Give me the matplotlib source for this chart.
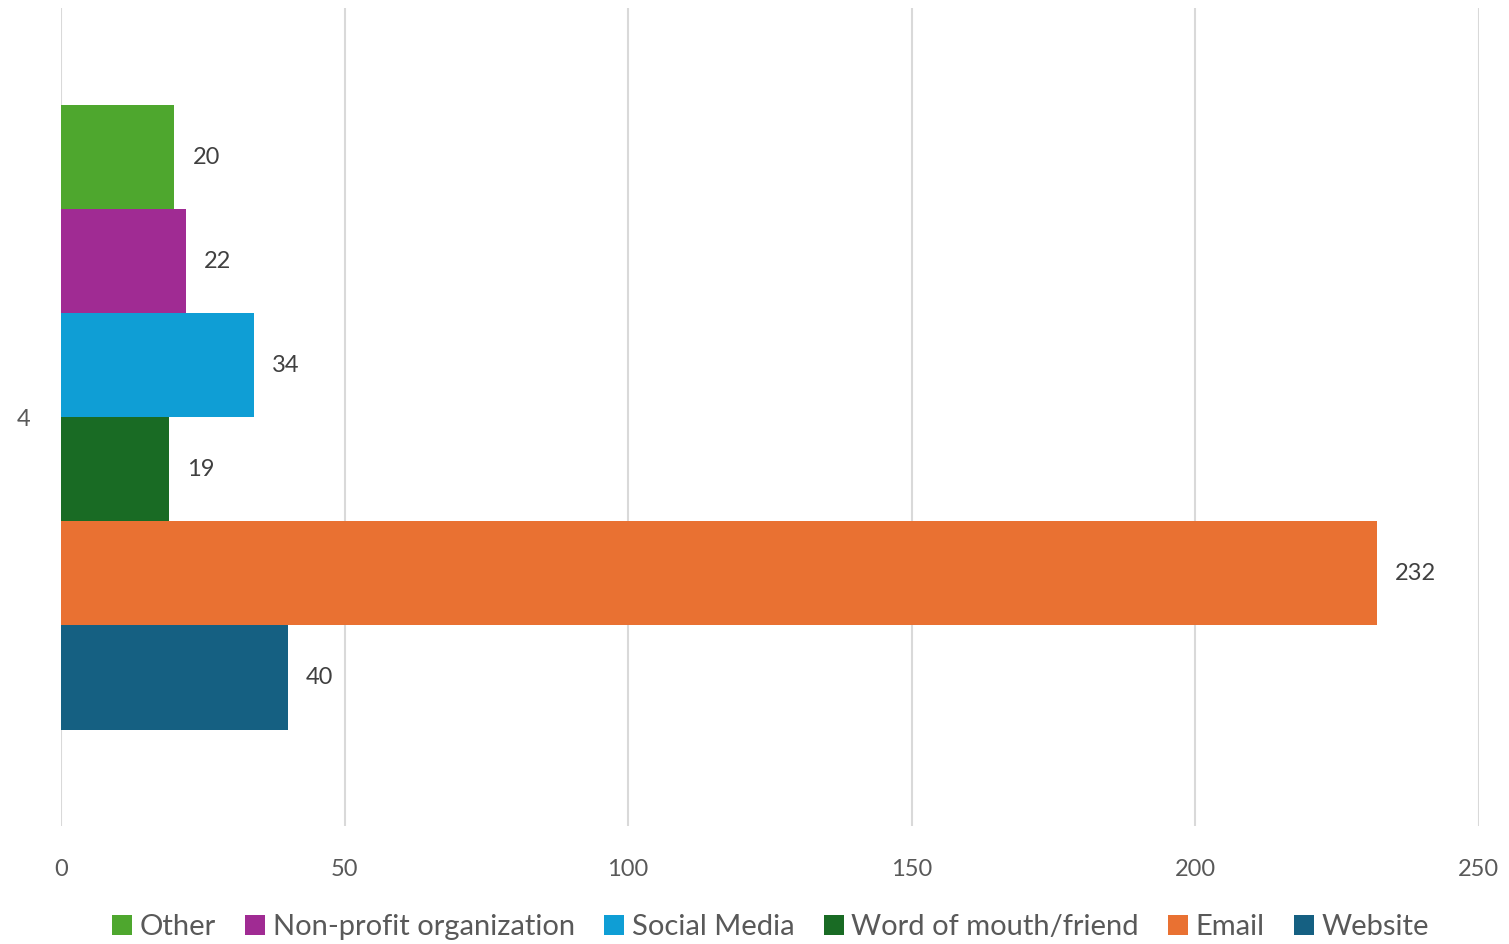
import numpy as np
import matplotlib.pyplot as plt

plt.rcParams['font.family'] = ['Lato', 'DejaVu Sans']

# series in drawing order (bottom to top)
series = ["Website", "Email", "Word of mouth/friend", "Social Media",
          "Non-profit organization", "Other"]
values = [40, 232, 19, 34, 22, 20]
colors = ["#156082", "#E97132", "#196B24", "#0F9ED5", "#A02B93", "#4EA72E"]
category = "4"
x_ticks = [0, 50, 100, 150, 200, 250]

fig = plt.figure(figsize=(15.09, 9.44), dpi=100)
ax = fig.add_axes([0.0404, 0.125, 0.9396, 0.866])

n = len(series)
group = 0.764
h = group / n
handles = []
for i, (name, v, c) in enumerate(zip(series, values, colors)):
    y = -group / 2 + h * (i + 0.5)
    b = ax.barh(y, v, height=h, color=c, label=name, zorder=3)
    handles.append(b)
    ax.annotate(str(v), (v, y), xytext=(13, 0), textcoords='offset points',
                va='center', ha='left', fontsize=17, color='#404040')

ax.set_xlim(0, 250)
ax.set_ylim(-0.5, 0.5)
ax.set_xticks(x_ticks)
ax.set_xticklabels([str(t) for t in x_ticks], fontsize=17, color='#595959')
ax.set_yticks([0])
ax.set_yticklabels([category], fontsize=17, color='#595959')
ax.tick_params(axis='both', length=0)
ax.tick_params(axis='x', pad=24)
ax.tick_params(axis='y', pad=22)
ax.grid(axis='x', color='#D9D9D9', linewidth=1.5, zorder=0)
for s in ax.spines.values():
    s.set_visible(False)

leg = fig.legend(handles[::-1], series[::-1], loc='lower center',
                 bbox_to_anchor=(0.5106, -0.024), ncol=n, frameon=False,
                 fontsize=21, handlelength=0.7, handleheight=0.7,
                 handletextpad=0.25, columnspacing=1.0)
for t in leg.get_texts():
    t.set_color('#595959')

fig.savefig('out.png', dpi=100)
